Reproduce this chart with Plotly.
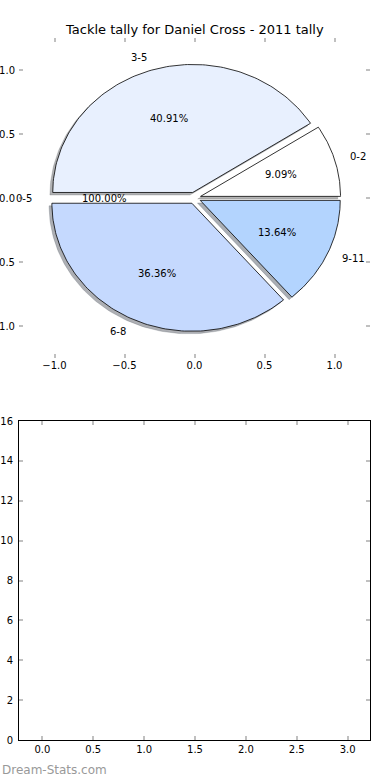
import numpy as np
import plotly.graph_objects as go

# ---- data ----
slice_labels = ["0-2", "3-5", "0-5", "6-8", "9-11"]
slice_values = [2, 9, 0, 8, 3]
pct_labels = ["9.09%", "40.91%", "100.00%", "36.36%", "13.64%"]
slice_colors = ["#ffffff", "#e8f0fe", "#dfe9fd", "#c5d9fe", "#b3d4fe"]
explode = 0.045

pie_ticks = [-1.0, -0.5, 0.0, 0.5, 1.0]
bar_xticks = [0.0, 0.5, 1.0, 1.5, 2.0, 2.5, 3.0]
bar_yticks = [0, 2, 4, 6, 8, 10, 12, 14, 16]

title = "Tackle tally for Daniel Cross - 2011 tally"
watermark = "Dream-Stats.com"

FONT = "DejaVu Sans"
TICKC = "#c0c0c0"

fig = go.Figure()

vals = np.array(slice_values, dtype=float)
fracs = vals / vals.sum()
starts = np.concatenate([[0], np.cumsum(fracs)[:-1]]) * 360.0
ends = np.cumsum(fracs) * 360.0


def wedge(cx, cy, a0, a1, r=1.0, n=120):
    t = np.radians(np.linspace(a0, a1, n))
    xs = np.concatenate([[cx], cx + r * np.cos(t), [cx]])
    ys = np.concatenate([[cy], cy + r * np.sin(t), [cy]])
    return xs, ys


def hex_to_rgb(h):
    h = h.lstrip("#")
    return tuple(int(h[i:i + 2], 16) for i in (0, 2, 4))


centers = []
for a0, a1 in zip(starts, ends):
    mid = np.radians((a0 + a1) / 2)
    centers.append((explode * np.cos(mid), explode * np.sin(mid), mid))

# shadows
for (cx, cy, mid), a0, a1, col in zip(centers, starts, ends, slice_colors):
    if a1 - a0 <= 0:
        continue
    xs, ys = wedge(cx - 0.02, cy - 0.02, a0, a1)
    r, g, b = hex_to_rgb(col)
    sc = f"rgba({int(r*0.3)},{int(g*0.3)},{int(b*0.3)},0.42)"
    fig.add_trace(go.Scatter(x=xs, y=ys, mode="lines", fill="toself",
                             fillcolor=sc, line=dict(color=sc, width=0.5),
                             hoverinfo="skip", showlegend=False,
                             xaxis="x", yaxis="y"))

# wedges
for (cx, cy, mid), a0, a1, col in zip(centers, starts, ends, slice_colors):
    if a1 - a0 <= 0:
        continue
    xs, ys = wedge(cx, cy, a0, a1)
    fig.add_trace(go.Scatter(x=xs, y=ys, mode="lines", fill="toself",
                             fillcolor=col, line=dict(color="black", width=0.8),
                             hoverinfo="skip", showlegend=False,
                             xaxis="x", yaxis="y"))

annotations = []
for (cx, cy, mid), lab, pct in zip(centers, slice_labels, pct_labels):
    lx = cx + 1.1 * np.cos(mid)
    ly = cy + 1.1 * np.sin(mid)
    annotations.append(dict(x=lx, y=ly, xref="x", yref="y", text=lab,
                            showarrow=False,
                            xanchor="left" if np.cos(mid) > 1e-9 else "right",
                            yanchor="middle",
                            font=dict(family=FONT, size=10, color="black")))
    px = cx + 0.6 * np.cos(mid)
    py = cy + 0.6 * np.sin(mid)
    annotations.append(dict(x=px, y=py, xref="x", yref="y", text=pct,
                            showarrow=False, xanchor="center", yanchor="middle",
                            font=dict(family=FONT, size=10, color="black")))

annotations.append(dict(x=0.5, y=1 - 30 / 780, xref="paper", yref="paper",
                        text=title, showarrow=False, xanchor="center",
                        yanchor="middle",
                        font=dict(family=FONT, size=13, color="black")))
annotations.append(dict(x=-19 / 351, y=1 - 770 / 780, xref="paper", yref="paper",
                        text=watermark, showarrow=False, xanchor="left",
                        yanchor="middle",
                        font=dict(family=FONT, size=12, color="#999999")))

# empty bottom subplot trace to activate axes
fig.add_trace(go.Scatter(x=[], y=[], xaxis="x2", yaxis="y2", showlegend=False))

common_tick = dict(ticks="inside", ticklen=4, tickwidth=1.5, tickcolor=TICKC,
                   showgrid=False, zeroline=False, automargin=False,
                   tickfont=dict(family=FONT, size=10, color="black"))

fig.update_layout(
    width=390, height=780,
    margin=dict(l=19, r=20, t=0, b=0, autoexpand=False),
    paper_bgcolor="white", plot_bgcolor="white",
    showlegend=False,
    annotations=annotations,
    xaxis=dict(domain=[0, 1], anchor="y", range=[-1.2536, 1.2536],
               tickvals=pie_ticks, tickformat=".1f", showline=False,
               mirror="ticks", **common_tick),
    yaxis=dict(domain=[1 - 358 / 780, 1 - 38 / 780], anchor="x",
               range=[-1.25, 1.25], tickvals=pie_ticks, tickformat=".1f",
               showline=False, mirror="ticks", ticklabelstandoff=3,
               **common_tick),
    xaxis2=dict(domain=[0, 1], anchor="y2", range=[-0.23, 3.22],
                tickvals=bar_xticks, tickformat=".1f", showline=True,
                linecolor="black", linewidth=1, mirror="ticks", **common_tick),
    yaxis2=dict(domain=[1 - 740 / 780, 1 - 421 / 780], anchor="x2",
                range=[0, 16], tickvals=bar_yticks, tickformat="d",
                showline=True, linecolor="black", linewidth=1, mirror="ticks",
                ticklabelstandoff=3, **common_tick),
)

fig.write_html("out.html", config={"displayModeBar": False},
               post_script="document.body.style.margin='0';"
                           "document.body.style.padding='0';")
